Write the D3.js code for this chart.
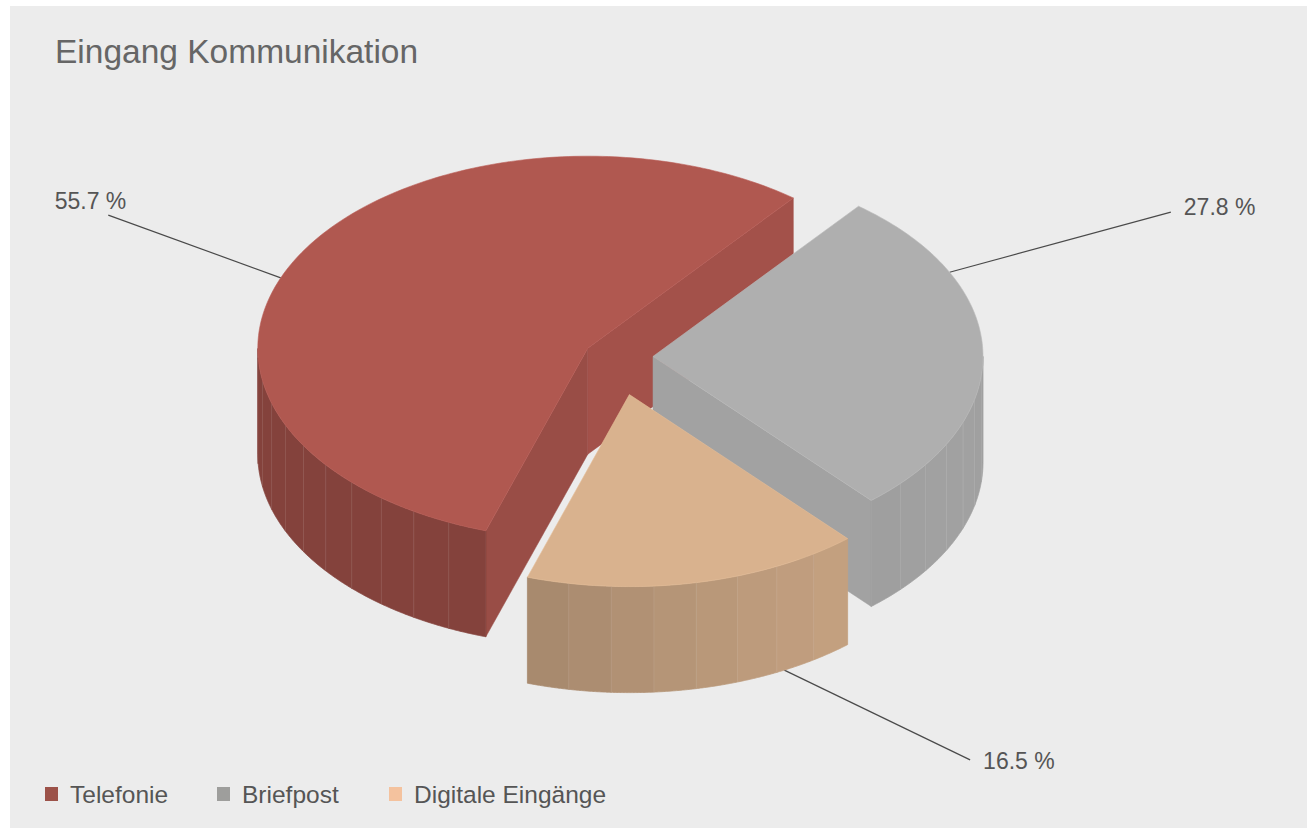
<!DOCTYPE html>
<html>
<head>
<meta charset="utf-8">
<script src="https://cdn.jsdelivr.net/npm/d3@7"></script>
<style>
  html, body { margin: 0; padding: 0; background: #fff; }
  svg { display: block; }
  text { font-family: "Helvetica Neue", "Liberation Sans", Arial, sans-serif; fill: #555; }
</style>
</head>
<body>
<div id="chart"></div>
<script>
// data
const categories = ['Telefonie', 'Briefpost', 'Digitale Eingänge'];
const shares = [55.7, 27.8, 16.5];
const chartTitle = 'Eingang Kommunikation';

// styles
const topColors = ['#b05850', '#afafaf', '#d9b28e'];
const legendColors = ['#9c5249', '#9e9e9c', '#f4c29e'];

const width = 1313, height = 830;
const deg = Math.PI / 180;

// 3d pie geometry
const cx = 616, cy = 357;          // pie center (top face)
const RX = 330, RY = 192;          // projected radii
const DEPTH = 106;                 // extrusion height
const pull = [32, 37, 66];         // explode distance per slice
const startAngle = 198 * deg;      // d3.pie angle (clockwise from 12 o'clock)

// label leader lines: angle on slice edge -> angle/radius of label end, z = 0 top / 1 bottom
const labelLayout = [
  {a0: 201.5, a1: 205.5, r1: 1.61, z: 0, side: 'left', dy: -6},
  {a0: -26, a1: -25.6, r1: 1.74, z: 0, side: 'right', dy: 3},
  {a0: 62, a1: 52.6, r1: 1.70, z: 1, side: 'right', dy: 9}
];

const svg = d3.select('#chart').append('svg')
  .attr('width', width)
  .attr('height', height);

svg.append('rect')
  .attr('x', 10).attr('y', 6)
  .attr('width', 1297).attr('height', 822)
  .attr('fill', '#ececec');

svg.append('text')
  .attr('x', 55).attr('y', 63)
  .style('font-size', '33.5px')
  .style('font-weight', 300)
  .style('fill', '#666')
  .text(chartTitle);

const pie = d3.pie().sort(null).value(d => d)
  .startAngle(startAngle).endAngle(startAngle + 2 * Math.PI);
const arcs = pie(shares);

// convert d3 pie angle to screen parametric angle
const toTheta = a => a - Math.PI / 2;

const slices = arcs.map((a, i) => {
  const t0 = toTheta(a.startAngle), t1 = toTheta(a.endAngle);
  const mid = (t0 + t1) / 2;
  const ox = cx + pull[i] * Math.cos(mid);
  const oy = cy + pull[i] * Math.sin(mid) * (RY / RX);
  return {i, t0, t1, mid, ox, oy};
});

const pt = (s, t, r, z) => [s.ox + r * RX * Math.cos(t), s.oy + r * RY * Math.sin(t) + z * DEPTH];

const shade = (color, k) => {
  const c = d3.rgb(color);
  return d3.rgb(c.r * k, c.g * k, c.b * k).formatHex();
};
const sideBright = t => 0.75 + 0.17 * Math.max(0, Math.cos(t - 22 * deg));

const line = d3.line();

// leader lines (behind the pie)
const labelG = svg.append('g');
slices.forEach(s => {
  const L = labelLayout[s.i];
  const p0 = pt(s, L.a0 * deg, 1, L.z);
  const p1 = pt(s, L.a1 * deg, L.r1, L.z);
  labelG.append('path')
    .attr('d', line([p0, p1]))
    .attr('stroke', '#4a4a4a')
    .attr('stroke-width', 1.2)
    .attr('fill', 'none');
  const left = L.side === 'left';
  labelG.append('text')
    .attr('x', p1[0] + (left ? 18 : 13))
    .attr('y', p1[1] + L.dy)
    .attr('text-anchor', left ? 'end' : 'start')
    .style('font-size', '23px')
    .text(shares[s.i].toFixed(1) + ' %');
});

// slices back to front
const pieG = svg.append('g');
slices.slice().sort((a, b) => a.oy - b.oy).forEach(s => {
  const g = pieG.append('g');
  const base = topColors[s.i];

  // radial faces
  const radial = (t, k) => {
    const pts = [pt(s, 0, 0, 0), pt(s, t, 1, 0), pt(s, t, 1, 1), pt(s, 0, 0, 1)];
    g.append('path')
      .attr('d', line(pts) + 'Z')
      .attr('fill', shade(base, k))
      .attr('stroke', shade(base, k))
      .attr('stroke-width', 0.5);
  };
  if (Math.cos(s.t0) < 0) radial(s.t0, 0.87);
  if (Math.cos(s.t1) > 0) radial(s.t1, 0.925);

  // outer side: flat-shaded facets of ~7 degrees, sampled finely along the rim
  const n = Math.max(1, Math.round((s.t1 - s.t0) / (7 * deg)));
  const seams = [];
  for (let k = 0; k < n; k++) {
    const a = s.t0 + (s.t1 - s.t0) * k / n;
    const b = s.t0 + (s.t1 - s.t0) * (k + 1) / n;
    const vis = d3.range(0, 31).map(j => a + (b - a) * j / 30).filter(t => Math.sin(t) > -0.001);
    if (vis.length < 2) continue;
    const m = (vis[0] + vis[vis.length - 1]) / 2;
    const col = shade(base, sideBright(m));
    const topEdge = vis.map(t => pt(s, t, 1, 0));
    const botEdge = vis.slice().reverse().map(t => pt(s, t, 1, 1));
    g.append('path')
      .attr('d', line(topEdge.concat(botEdge)) + 'Z')
      .attr('fill', col)
      .attr('stroke', col)
      .attr('stroke-width', 0.8);
    if (k > 0 && Math.sin(a) > 0.05) seams.push(a);
  }
  seams.forEach(t => {
    g.append('path')
      .attr('d', line([pt(s, t, 1, 0), pt(s, t, 1, 1)]))
      .attr('stroke', '#fff')
      .attr('stroke-opacity', 0.1)
      .attr('stroke-width', 1);
  });

  // top face
  const topPts = [pt(s, 0, 0, 0)];
  const m2 = Math.ceil((s.t1 - s.t0) / deg);
  for (let k = 0; k <= m2; k++) topPts.push(pt(s, s.t0 + (s.t1 - s.t0) * k / m2, 1, 0));
  g.append('path')
    .attr('d', line(topPts) + 'Z')
    .attr('fill', base)
    .attr('stroke', shade(base, 1.06))
    .attr('stroke-width', 0.6);
});

// legend
const legend = svg.append('g').attr('transform', 'translate(45,787)');
categories.forEach((c, i) => {
  const item = legend.append('g').attr('transform', `translate(${i * 172},0)`);
  item.append('rect')
    .attr('width', 13).attr('height', 14)
    .attr('fill', legendColors[i]);
  item.append('text')
    .attr('x', 25).attr('y', 16)
    .style('font-size', '24.5px')
    .text(c);
});
</script>
</body>
</html>
